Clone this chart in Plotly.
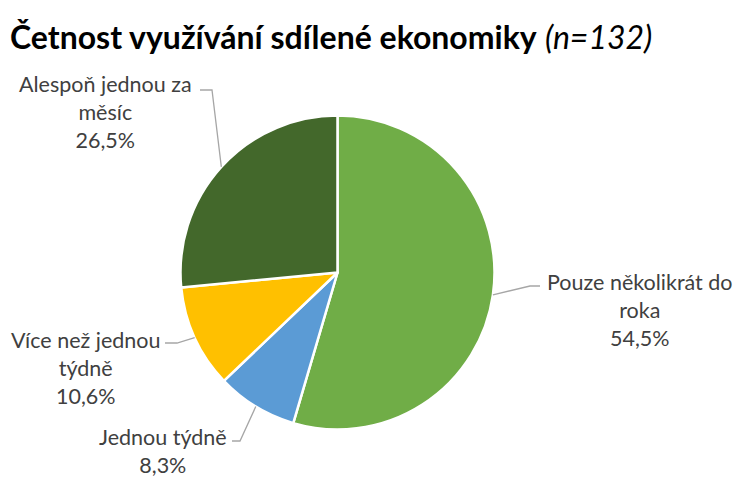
import math
import plotly.graph_objects as go

# ---- data ----
categories = ["Pouze několikrát do roka", "Jednou týdně", "Více než jednou týdně", "Alespoň jednou za měsíc"]
label_lines = [["Pouze několikrát do", "roka"], ["Jednou týdně"], ["Více než jednou", "týdně"], ["Alespoň jednou za", "měsíc"]]
counts = [72, 11, 14, 35]
colors = ["#70AD47", "#5B9BD5", "#FFC000", "#43682B"]
title_main = "Četnost využívání sdílené ekonomiky"
title_n = "(n=132)"

W, H = 740, 477
CX, CY, R = 337.5, 272.5, 157.0

# label layout (pixel positions of label block centre, elbow, line end)
label_pos = [(640, 310), (163, 451), (85, 368), (105, 112)]
elbows = [((530, 286), (540, 286)), ((240, 441), (232, 441)), ((177, 343), (165, 343)), ((212, 90), (200, 90))]

def px(x):
    return x / W

def py(y):
    return 1 - y / H

fig = go.Figure(go.Pie(
    labels=categories, values=counts, sort=False, direction="clockwise", rotation=0,
    marker=dict(colors=colors, line=dict(color="white", width=2.5)),
    textinfo="none", hoverinfo="label+percent", showlegend=False,
    domain=dict(x=[px(CX - R), px(CX + R)], y=[py(CY + R), py(CY - R)]),
))

total = sum(counts)
cum = 0
shapes = []
annotations = []
for i, c in enumerate(counts):
    frac = c / total
    mid = (cum + frac / 2) * 2 * math.pi
    cum += frac
    ex = CX + R * math.sin(mid)
    ey = CY - R * math.cos(mid)
    (bx, by), (tx, ty) = elbows[i]
    shapes.append(dict(type="path", xref="paper", yref="paper",
                       path=f"M {px(ex)} {py(ey)} L {px(bx)} {py(by)} L {px(tx)} {py(ty)}",
                       line=dict(color="#A6A6A6", width=1.3)))
    pct = f"{frac*100:.1f}".replace(".", ",") + "%"
    text = "<br>".join(label_lines[i] + [pct])
    lx, ly = label_pos[i]
    annotations.append(dict(x=px(lx), y=py(ly), xref="paper", yref="paper", text=text,
                            showarrow=False, xanchor="center", yanchor="middle", align="center",
                            font=dict(family="Lato", size=21.5, color="#404040")))

fig.update_layout(
    width=W, height=H,
    margin=dict(l=0, r=0, t=0, b=0),
    paper_bgcolor="white", plot_bgcolor="white",
    title=dict(text=f"<b>{title_main}</b> <i>{title_n}</i>", x=10 / W, xanchor="left",
               y=py(38), yanchor="middle", yref="container",
               font=dict(family="Lato", size=32, color="black")),
    shapes=shapes, annotations=annotations,
)

fig.write_html("out.html", config={"displayModeBar": False},
               post_script="document.body.style.margin='0';document.body.style.overflow='hidden';")
